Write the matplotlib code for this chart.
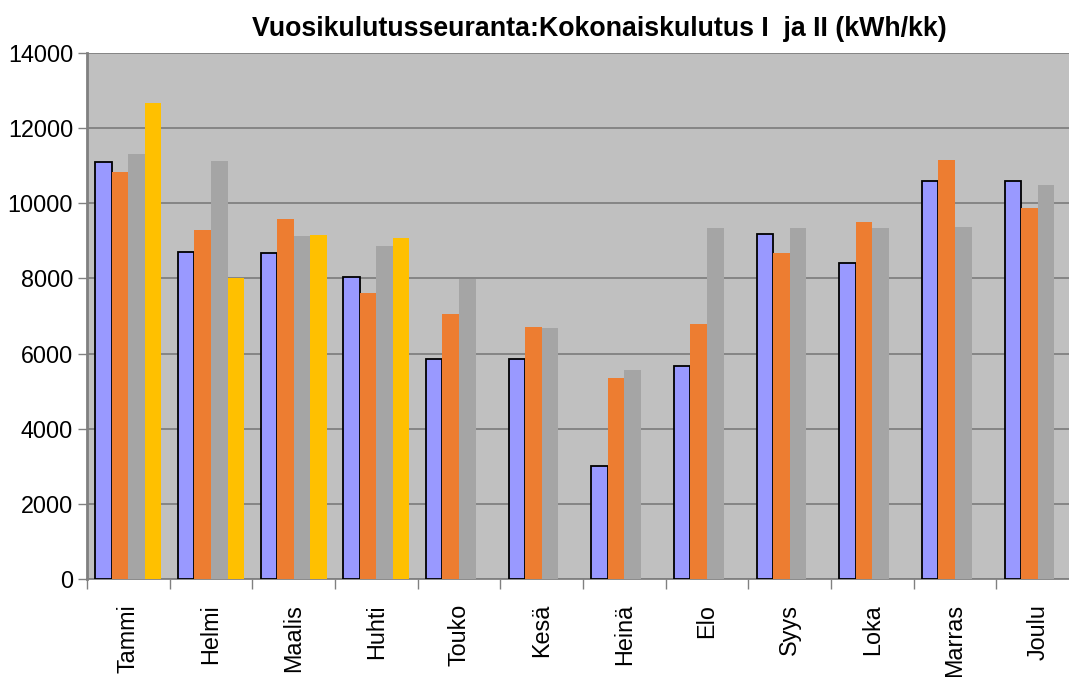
import numpy as np
import matplotlib
matplotlib.use("Agg")
import matplotlib.pyplot as plt

months = ["Tammi", "Helmi", "Maalis", "Huhti", "Touko", "Kesä", "Heinä",
          "Elo", "Syys", "Loka", "Marras", "Joulu"]
series1 = [11100, 8710, 8670, 8030, 5860, 5850, 3020, 5680, 9180, 8420, 10600, 10590]
series2 = [10820, 9300, 9570, 7600, 7050, 6720, 5360, 6790, 8670, 9510, 11160, 9880]
series3 = [11310, 11130, 9130, 8870, 7990, 6670, 5570, 9340, 9340, 9340, 9360, 10490]
series4 = [12680, 8010, 9160, 9070, np.nan, np.nan, np.nan, np.nan, np.nan, np.nan, np.nan, np.nan]
title = "Vuosikulutusseuranta:Kokonaiskulutus I  ja II (kWh/kk)"

plt.rcParams['font.family'] = ['Liberation Sans', 'DejaVu Sans']

W, H = 1069, 677
fig = plt.figure(figsize=(W / 100, H / 100), dpi=100)
ax = fig.add_axes([87 / W, 1 - 579 / H, (1079 - 87) / W, (579 - 53) / H])
ax.set_facecolor("#C0C0C0")

x = np.arange(len(months))
bw = 0.2
colors = ["#9999FF", "#ED7D31", "#A5A5A5", "#FFC000"]
allseries = [series1, series2, series3, series4]
for k, (vals, c) in enumerate(zip(allseries, colors)):
    pos = x + 0.2 + 0.2 * k
    if k == 0:
        ax.bar(pos, vals, width=bw, color=c, edgecolor="black", linewidth=1.3, zorder=3)
    else:
        ax.bar(pos, vals, width=bw, color=c, edgecolor="none", zorder=3)

ax.set_xlim(0, 12)
ax.set_ylim(0, 14000)
ax.set_yticks(np.arange(0, 14001, 2000))
ax.yaxis.grid(True, color="#808080", linewidth=1.3, zorder=1)
ax.set_axisbelow(True)

ax.set_xticks(np.arange(0, 13))
ax.set_xticklabels([])
ax.set_xticks(x + 0.5, minor=True)
ax.set_xticklabels(months, minor=True, rotation=90, fontsize=16.8, va="top", ha="center")
ax.tick_params(axis="x", which="major", length=7, width=1, color="#808080", direction="out")
ax.tick_params(axis="x", which="minor", length=0, pad=18)
ax.tick_params(axis="y", length=6.5, width=1, color="#808080", direction="out", labelsize=16.8, pad=3.5)

for s in ["top", "right"]:
    ax.spines[s].set_visible(False)
ax.spines["left"].set_color("#808080")
ax.spines["left"].set_linewidth(2)
ax.spines["bottom"].set_color("#808080")
ax.spines["bottom"].set_linewidth(1.3)

fig.text(599 / W, 1 - 36 / H, title, ha="center", va="baseline", fontsize=19.3, fontweight="bold")

fig.savefig("out.png", dpi=100)
